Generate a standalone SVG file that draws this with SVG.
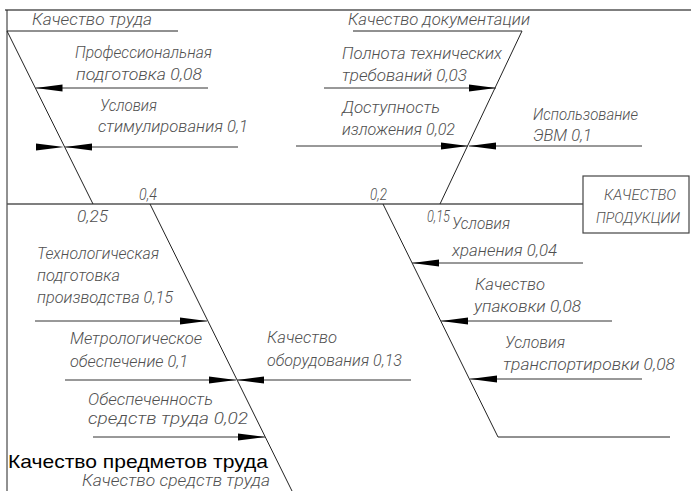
<svg xmlns="http://www.w3.org/2000/svg" width="691" height="491" viewBox="0 0 691 491">
<style>
.t{font-family:Roboto,"DejaVu Sans",sans-serif;font-style:italic;font-weight:300;font-size:16.5px;fill:#505050}
.s{font-size:14.5px}
.b{font-family:"Liberation Sans",Arial,sans-serif;font-size:19px;fill:#000}
.ln{stroke:#222;stroke-width:1;fill:none}
.sp{stroke:#555;stroke-width:1.4;fill:none}
.ar{stroke:#333;stroke-width:1;fill:none;marker-end:url(#ah)}
.tri{fill:#000}
</style>
<defs>
<marker id="ah" markerUnits="userSpaceOnUse" markerWidth="28" markerHeight="8" viewBox="0 -4 28 8" refX="27" refY="0" orient="auto">
<path d="M0,-3.5 L27,0 L0,3.5 z" fill="#000"/>
</marker>
</defs>
<rect width="691" height="491" fill="#fff"/>
<g id="frame">
<line class="sp" x1="5" y1="10" x2="691" y2="10"/>
<line class="ln" x1="7" y1="10" x2="7" y2="491"/>
</g>
<g id="connectors">
<line class="sp" x1="7" y1="204" x2="583" y2="204"/>
<polyline class="ln" points="178,31 7,31 93,204"/>
<polyline class="ln" points="353,31 522,31 440,204"/>
<line class="ln" x1="150" y1="204" x2="292" y2="491"/>
<polyline class="ln" points="383,204 498,437 670,437"/>
<line class="ar" x1="208" y1="88" x2="35.5" y2="88"/>
<line class="ar" x1="238" y1="147" x2="65" y2="147"/>
<polygon class="tri" points="36,143.5 36,150.5 64,147"/>
<line class="ar" x1="324" y1="88" x2="496" y2="88"/>
<line class="ar" x1="296" y1="146" x2="468" y2="146"/>
<line class="ar" x1="642" y1="146" x2="469" y2="146"/>
<line class="ar" x1="35" y1="321" x2="207" y2="321"/>
<line class="ar" x1="65" y1="380" x2="236" y2="380"/>
<line class="ar" x1="411" y1="380" x2="237" y2="380"/>
<line class="ar" x1="93" y1="437" x2="265" y2="437"/>
<line class="ar" x1="583" y1="263" x2="412" y2="263"/>
<line class="ar" x1="612" y1="321" x2="441" y2="321"/>
<line class="ar" x1="642" y1="379" x2="470" y2="379"/>
</g>
<g id="labour">
<text class="t" x="32" y="25" textLength="120" lengthAdjust="spacingAndGlyphs">Качество труда</text>
<text class="t" x="139" y="200" textLength="18" lengthAdjust="spacingAndGlyphs">0,4</text>
<text class="t" x="77" y="222" textLength="31" lengthAdjust="spacingAndGlyphs">0,25</text>
</g>
<g id="prof">
<text class="t" x="75" y="58" textLength="137" lengthAdjust="spacingAndGlyphs">Профессиональная</text>
<text class="t" x="76" y="80" textLength="126" lengthAdjust="spacingAndGlyphs">подготовка  0,08</text>
</g>
<g id="stim">
<text class="t" x="100" y="111" textLength="57" lengthAdjust="spacingAndGlyphs">Условия</text>
<text class="t" x="98" y="132" textLength="150" lengthAdjust="spacingAndGlyphs">стимулирования  0,1</text>
</g>
<g id="docs">
<text class="t" x="348" y="25" textLength="182" lengthAdjust="spacingAndGlyphs">Качество документации</text>
<text class="t" x="370" y="200" textLength="17" lengthAdjust="spacingAndGlyphs">0,2</text>
</g>
<g id="completeness">
<text class="t" x="342" y="59" textLength="160" lengthAdjust="spacingAndGlyphs">Полнота технических</text>
<text class="t" x="342" y="81" textLength="125" lengthAdjust="spacingAndGlyphs">требований  0,03</text>
</g>
<g id="access">
<text class="t" x="342" y="113" textLength="98" lengthAdjust="spacingAndGlyphs">Доступность</text>
<text class="t" x="342" y="135" textLength="113" lengthAdjust="spacingAndGlyphs">изложения  0,02</text>
</g>
<g id="computer">
<text class="t" x="533" y="120" textLength="105" lengthAdjust="spacingAndGlyphs">Использование</text>
<text class="t" x="533" y="141" textLength="59" lengthAdjust="spacingAndGlyphs">ЭВМ  0,1</text>
</g>
<g id="product">
<rect x="583" y="176" width="106" height="57" fill="#fff" stroke="#444" stroke-width="1.2"/>
<text class="t s" x="604" y="200" textLength="72" lengthAdjust="spacingAndGlyphs">КАЧЕСТВО</text>
<text class="t s" x="596" y="223" textLength="84" lengthAdjust="spacingAndGlyphs">ПРОДУКЦИИ</text>
</g>
<g id="materials">
<text class="t" x="427" y="222" textLength="23" lengthAdjust="spacingAndGlyphs">0,15</text>
</g>
<g id="storage">
<text class="t" x="452" y="229" textLength="58" lengthAdjust="spacingAndGlyphs">Условия</text>
<text class="t" x="452" y="256" textLength="105" lengthAdjust="spacingAndGlyphs">хранения  0,04</text>
</g>
<g id="packaging">
<text class="t" x="475" y="290" textLength="70" lengthAdjust="spacingAndGlyphs">Качество</text>
<text class="t" x="474" y="312" textLength="107" lengthAdjust="spacingAndGlyphs">упаковки  0,08</text>
</g>
<g id="transport">
<text class="t" x="505" y="348" textLength="60" lengthAdjust="spacingAndGlyphs">Условия</text>
<text class="t" x="503" y="370" textLength="172" lengthAdjust="spacingAndGlyphs">транспортировки  0,08</text>
</g>
<g id="techprep">
<text class="t" x="37" y="259" textLength="122" lengthAdjust="spacingAndGlyphs">Технологическая</text>
<text class="t" x="37" y="281" textLength="83" lengthAdjust="spacingAndGlyphs">подготовка</text>
<text class="t" x="37" y="303" textLength="136" lengthAdjust="spacingAndGlyphs">производства  0,15</text>
</g>
<g id="metrology">
<text class="t" x="70" y="344" textLength="132" lengthAdjust="spacingAndGlyphs">Метрологическое</text>
<text class="t" x="70" y="367" textLength="118" lengthAdjust="spacingAndGlyphs">обеспечение  0,1</text>
</g>
<g id="equipment">
<text class="t" x="267" y="343" textLength="70" lengthAdjust="spacingAndGlyphs">Качество</text>
<text class="t" x="267" y="366" textLength="135" lengthAdjust="spacingAndGlyphs">оборудования  0,13</text>
</g>
<g id="provision">
<text class="t" x="88" y="405" textLength="125" lengthAdjust="spacingAndGlyphs">Обеспеченность</text>
<text class="t" x="88" y="424" textLength="160" lengthAdjust="spacingAndGlyphs">средств труда  0,02</text>
</g>
<g id="means">
<text class="b" x="8" y="468" textLength="260" lengthAdjust="spacingAndGlyphs">Качество предметов труда</text>
<text class="t" x="82" y="486" textLength="188" lengthAdjust="spacingAndGlyphs">Качество средств труда</text>
</g>
</svg>
